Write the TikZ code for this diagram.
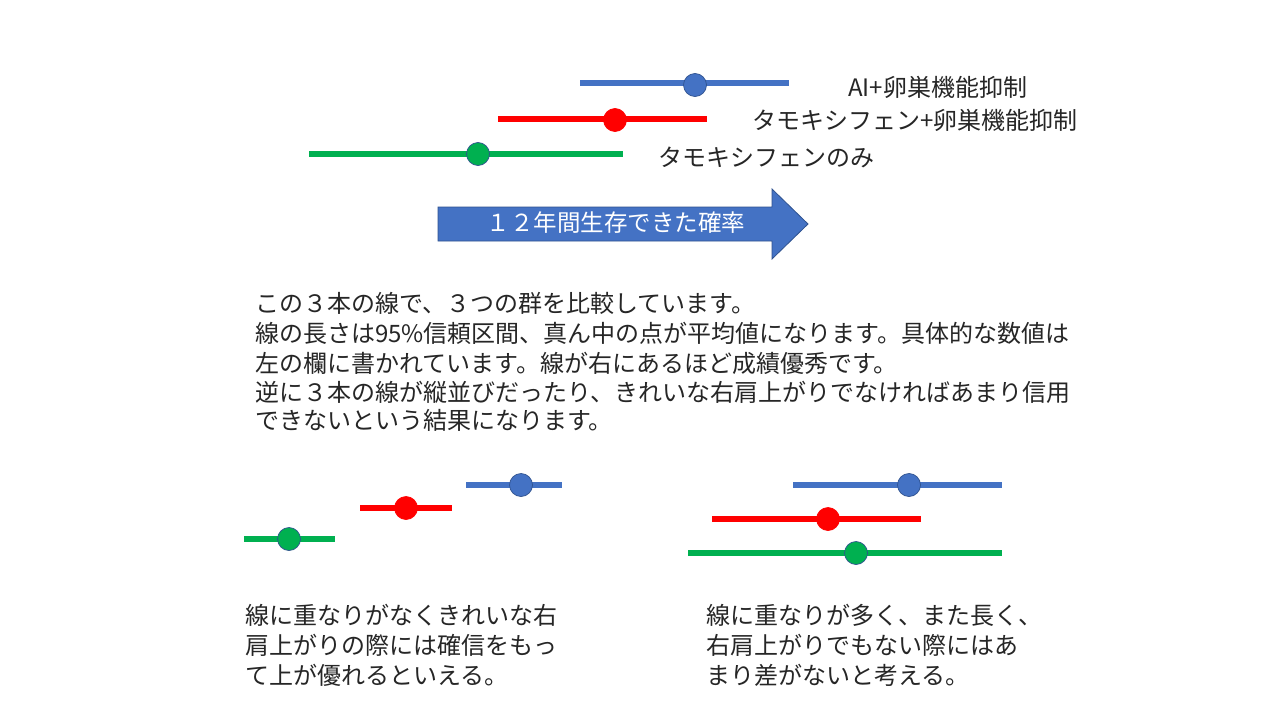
\documentclass[tikz,border=0pt]{standalone}
\usepackage{fontspec}
\setmainfont{Noto Sans CJK JP}
\definecolor{ablue}{HTML}{4472C4}
\definecolor{dblue}{HTML}{2F528F}
\definecolor{ared}{HTML}{FF0000}
\definecolor{agreen}{HTML}{00B050}
\definecolor{txt}{HTML}{262626}
\begin{document}
\begin{tikzpicture}[x=1pt,y=-1pt,
  bar/.style={line width=5.5pt},
  dotbase/.style={circle,minimum size=23pt,inner sep=0pt,line width=0.7pt},
  dotblue/.style={dotbase,fill=ablue,draw=dblue},
  dotred/.style={dotbase,fill=ared,draw=ared},
  dotgreen/.style={dotbase,fill=agreen,draw=dblue},
  lbl/.style={anchor=west,inner sep=0pt,text=txt,font=\fontsize{24}{28}\selectfont,text height=0.88em,text depth=0.12em},
  arrowbox/.style={fill=ablue,draw=dblue,line width=0.8pt}]
\useasboundingbox[fill=white] (0,0) rectangle (1280,720);

% ---- top chart ----
\coordinate (b1) at (580,83); \coordinate (b2) at (789,83);
\coordinate (r1) at (498,119); \coordinate (r2) at (707,119);
\coordinate (g1) at (309,154); \coordinate (g2) at (623,154);
\draw[bar,ablue] (b1) -- (b2);
\draw[bar,ared] (r1) -- (r2);
\draw[bar,agreen] (g1) -- (g2);
\node[dotblue] (bd) at (695,85) {};
\node[dotred] (rd) at (615,120) {};
\node[dotgreen] (gd) at (478,154) {};
\node[lbl] (lb) at (848,93) {AI+卵巣機能抑制};
\node[lbl] (lr) at (752,126) {タモキシフェン+卵巣機能抑制};
\node[lbl] (lg) at (658,163) {タモキシフェンのみ};

% ---- arrow ----
\path[arrowbox] (438,207) -- (772,207) -- (772,189) -- (808,224) -- (772,259) -- (772,241) -- (438,241) -- cycle;
\node[lbl,anchor=center,text=white,font=\fontsize{23.5}{28}\selectfont] (at) at (616,228) {１２年間生存できた確率};

% ---- paragraph ----
\node[lbl] (p1) at (255,309) {この３本の線で、３つの群を比較しています。};
\node[lbl] (p2) at (255,339) {線の長さは95\%信頼区間、真ん中の点が平均値になります。具体的な数値は};
\node[lbl] (p3) at (255,369) {左の欄に書かれています。線が右にあるほど成績優秀です。};
\node[lbl] (p4) at (255,398) {逆に３本の線が縦並びだったり、きれいな右肩上がりでなければあまり信用};
\node[lbl] (p5) at (255,426) {できないという結果になります。};

% ---- bottom left chart ----
\coordinate (lb1) at (466,485); \coordinate (lb2) at (562,485);
\coordinate (lr1) at (360,508); \coordinate (lr2) at (452,508);
\coordinate (lg1) at (244,539); \coordinate (lg2) at (335,539);
\draw[bar,ablue] (lb1) -- (lb2);
\draw[bar,ared] (lr1) -- (lr2);
\draw[bar,agreen] (lg1) -- (lg2);
\node[dotblue] (lbd) at (521,485) {};
\node[dotred] (lrd) at (406,508) {};
\node[dotgreen] (lgd) at (289,539) {};

% ---- bottom right chart ----
\coordinate (rb1) at (793,485); \coordinate (rb2) at (1002,485);
\coordinate (rr1) at (712,519); \coordinate (rr2) at (921,519);
\coordinate (rg1) at (688,553); \coordinate (rg2) at (1002,553);
\draw[bar,ablue] (rb1) -- (rb2);
\draw[bar,ared] (rr1) -- (rr2);
\draw[bar,agreen] (rg1) -- (rg2);
\node[dotblue] (rbd) at (909,485) {};
\node[dotred] (rrd) at (828,519) {};
\node[dotgreen] (rgd) at (856,553) {};

% ---- bottom texts ----
\node[lbl] (t1) at (245,621) {線に重なりがなくきれいな右};
\node[lbl] (t2) at (245,651) {肩上がりの際には確信をもっ};
\node[lbl] (t3) at (245,681) {て上が優れるといえる。};
\node[lbl] (u1) at (706,621) {線に重なりが多く、また長く、};
\node[lbl] (u2) at (706,651) {右肩上がりでもない際にはあ};
\node[lbl] (u3) at (706,681) {まり差がないと考える。};
\end{tikzpicture}
\end{document}
